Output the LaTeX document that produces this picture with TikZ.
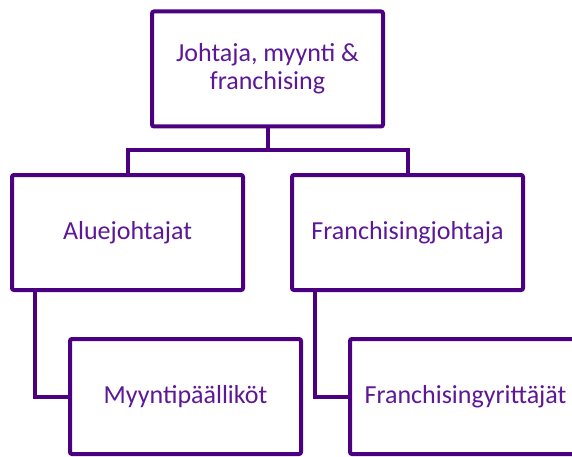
\documentclass[tikz,border=0pt]{standalone}
\usepackage{fontspec}
\setmainfont{Carlito}
\definecolor{boxline}{RGB}{75,0,130}
\definecolor{boxtext}{RGB}{92,24,150}
\begin{document}
\begin{tikzpicture}[x=1pt,y=1pt,
  orgbox/.style={draw=boxline, line width=4pt, rounded corners=2pt, fill=white,
    minimum width=231pt, minimum height=115pt, inner sep=0pt, align=center,
    text=boxtext, font=\fontsize{26}{28}\selectfont},
  link/.style={draw=boxline, line width=4pt}]
\useasboundingbox (0,0) rectangle (572,-457);
\clip (0,0) rectangle (572,-457);
\node[orgbox] (top) at (267.5,-69) {Johtaja, myynti \&\\franchising};
\node[orgbox] (alue) at (127.5,-232.5) {Aluejohtajat};
\node[orgbox] (fran) at (407.5,-232.5) {Franchisingjohtaja};
\node[orgbox] (myy) at (185.5,-396.5) {Myyntipäälliköt};
\node[orgbox] (fy) at (465.5,-396.5) {Franchisingyrittäjät};
\coordinate (bus) at (267.5,-150);
\draw[link] (top.south) -- (bus);
\draw[link] (alue.north) |- (bus) -| (fran.north);
\coordinate (a1) at (35,-292);
\coordinate (f1) at (315,-292);
\draw[link] (alue.south -| a1) |- (myy.west);
\draw[link] (fran.south -| f1) |- (fy.west);
\end{tikzpicture}
\end{document}
